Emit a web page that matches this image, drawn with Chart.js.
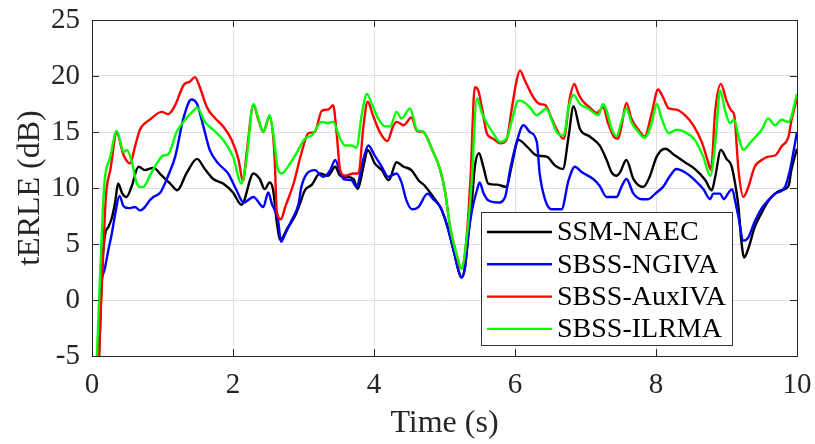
<!DOCTYPE html>
<html>
<head>
<meta charset="utf-8">
<script src="https://cdn.jsdelivr.net/npm/chart.js@4.4.1/dist/chart.umd.min.js"></script>
<style>
  html, body { margin: 0; padding: 0; background: #ffffff; }
  #wrap { width: 815px; height: 444px; }
</style>
</head>
<body>
<div id="wrap"><canvas id="terle" width="815" height="444"></canvas></div>
<script>
// time (s), tERLE (dB) pairs per method
var ssmNaec = [[0.10,-5],[0.15,3.5],[0.19,6.0],[0.23,6.5],[0.28,7.3],[0.33,8.8],[0.37,10.4],[0.43,9.5],[0.49,9.2],[0.56,10.1],
  [0.66,11.9],[0.75,11.6],[0.87,11.8],[0.99,11.1],[1.11,10.4],[1.21,9.8],[1.34,11.3],[1.49,12.6],[1.60,11.7],[1.72,10.8],
  [1.86,10.4],[2.00,9.6],[2.12,8.5],[2.29,11.3],[2.38,10.8],[2.45,9.9],[2.52,10.5],[2.57,9.8],[2.62,7.0],[2.67,5.4],
  [2.78,6.5],[2.88,7.5],[2.95,8.6],[3.02,9.8],[3.12,10.3],[3.23,11.3],[3.35,11.1],[3.45,11.9],[3.52,11.1],[3.61,11.0],
  [3.71,10.8],[3.77,9.9],[3.85,11.9],[3.91,13.4],[4.01,12.2],[4.11,11.6],[4.21,10.7],[4.32,12.3],[4.42,11.9],[4.53,11.6],
  [4.63,10.7],[4.72,10.2],[4.84,9.2],[4.94,8.3],[5.03,6.8],[5.13,4.4],[5.20,2.6],[5.24,2.0],[5.29,2.9],[5.34,5.9],
  [5.39,8.9],[5.43,11.9],[5.49,13.1],[5.55,11.9],[5.62,10.4],[5.74,10.3],[5.88,10.1],[5.95,11.9],[6.05,14.3],[6.17,13.7],
  [6.31,12.9],[6.45,12.8],[6.57,12.0],[6.68,11.7],[6.76,14.6],[6.83,17.3],[6.92,15.3],[7.06,14.6],[7.20,13.8],[7.30,12.5],
  [7.37,11.4],[7.44,11.1],[7.49,11.4],[7.58,12.5],[7.68,10.8],[7.82,10.1],[7.91,11.0],[8.01,12.8],[8.13,13.5],[8.27,12.9],
  [8.41,12.3],[8.55,11.7],[8.70,10.7],[8.79,9.8],[8.84,11.0],[8.92,13.4],[9.00,12.6],[9.07,12.0],[9.13,10.1],[9.17,8.3],
  [9.21,5.3],[9.25,3.8],[9.31,4.6],[9.40,6.5],[9.50,7.8],[9.59,8.8],[9.69,9.5],[9.78,9.8],[9.88,10.2],[9.92,11.6],[10.00,13.5]];

var sbssNgiva = [[0.09,-5],[0.114,0],[0.185,2.9],[0.23,4.4],[0.28,5.9],[0.33,7.7],[0.39,9.3],[0.445,8.4],[0.52,8.2],[0.61,8.3],
  [0.68,8.0],[0.75,8.3],[0.82,8.9],[0.87,9.2],[0.97,9.6],[1.08,11.1],[1.18,12.8],[1.30,16.3],[1.41,17.9],[1.49,17.5],
  [1.58,15.5],[1.67,13.4],[1.79,12.2],[1.93,11.3],[2.05,9.8],[2.15,8.7],[2.29,9.2],[2.43,8.3],[2.50,9.6],[2.55,8.6],
  [2.64,7.1],[2.68,5.2],[2.74,5.9],[2.83,7.1],[2.93,8.6],[2.97,10.1],[3.05,11.3],[3.16,11.6],[3.28,11.0],[3.38,11.6],
  [3.45,12.5],[3.52,11.4],[3.57,10.8],[3.68,10.7],[3.75,10.1],[3.85,12.6],[3.92,13.8],[4.01,12.9],[4.11,11.9],[4.20,11.0],
  [4.32,11.3],[4.39,10.5],[4.46,8.9],[4.54,8.1],[4.63,8.3],[4.76,9.5],[4.84,9.0],[4.94,8.3],[5.03,6.8],[5.13,4.4],
  [5.20,2.6],[5.24,2.0],[5.29,2.9],[5.34,5.9],[5.39,8.0],[5.46,9.8],[5.50,10.5],[5.55,9.6],[5.62,8.9],[5.76,8.7],
  [5.86,9.2],[5.93,11.6],[6.02,14.0],[6.12,15.6],[6.21,15.0],[6.31,14.1],[6.35,11.3],[6.43,8.9],[6.52,8.1],[6.66,8.1],
  [6.76,10.7],[6.85,11.9],[6.95,11.4],[7.11,10.8],[7.20,10.2],[7.30,9.2],[7.44,9.2],[7.51,10.1],[7.58,10.8],[7.68,9.5],
  [7.80,9.0],[7.89,9.0],[7.99,9.5],[8.10,10.1],[8.20,11.1],[8.29,11.7],[8.41,11.4],[8.55,10.7],[8.67,9.9],[8.77,9.0],
  [8.81,9.5],[8.91,9.5],[8.96,9.0],[9.03,9.6],[9.08,9.9],[9.12,8.9],[9.17,7.4],[9.24,5.3],[9.31,5.6],[9.40,7.0],
  [9.50,8.2],[9.59,8.9],[9.69,9.5],[9.83,10.1],[9.90,11.6],[10.00,15.0]];

var sbssAuxiva = [[0.10,-5],[0.13,0],[0.165,5.0],[0.19,8.5],[0.21,10.1],[0.26,11.6],[0.35,14.9],[0.45,12.9],[0.54,12.2],[0.61,13.7],
  [0.68,15.2],[0.82,16.1],[0.99,16.8],[1.08,16.6],[1.18,17.4],[1.30,19.2],[1.39,19.5],[1.46,19.9],[1.53,19.0],[1.63,17.2],
  [1.75,16.2],[1.86,15.5],[1.98,14.3],[2.08,12.5],[2.14,10.6],[2.20,13.5],[2.29,17.4],[2.36,16.1],[2.43,15.0],[2.52,16.4],
  [2.59,12.8],[2.62,8.0],[2.68,7.2],[2.74,8.3],[2.86,10.4],[2.97,13.1],[3.07,14.9],[3.16,15.0],[3.26,16.9],[3.35,17.0],
  [3.42,17.4],[3.47,14.9],[3.52,11.6],[3.59,11.1],[3.71,11.3],[3.78,11.3],[3.85,15.5],[3.91,17.7],[3.99,16.4],[4.09,14.9],
  [4.19,14.2],[4.27,15.5],[4.32,15.9],[4.42,15.6],[4.53,16.3],[4.61,15.1],[4.70,15.0],[4.82,13.5],[4.94,11.6],[5.01,9.6],
  [5.08,6.5],[5.17,4.1],[5.24,2.8],[5.31,5.3],[5.37,11.0],[5.43,19.0],[5.48,18.7],[5.53,17.2],[5.60,14.9],[5.69,14.4],
  [5.79,14.0],[5.88,14.3],[5.95,16.9],[6.02,19.5],[6.07,20.5],[6.14,19.6],[6.26,18.1],[6.35,17.5],[6.43,17.4],[6.52,16.2],
  [6.61,15.0],[6.69,14.4],[6.78,18.1],[6.84,19.3],[6.90,18.4],[6.97,17.7],[7.06,17.2],[7.16,16.7],[7.25,17.2],[7.32,15.8],
  [7.40,14.6],[7.46,14.4],[7.51,15.5],[7.58,17.6],[7.65,16.2],[7.75,15.2],[7.84,14.6],[7.94,16.7],[8.03,18.8],[8.10,18.1],
  [8.18,17.1],[8.29,17.0],[8.41,16.5],[8.53,15.6],[8.65,14.1],[8.74,12.3],[8.78,11.6],[8.84,16.9],[8.92,19.3],[9.00,17.8],
  [9.07,16.9],[9.11,16.5],[9.17,11.6],[9.24,9.2],[9.31,10.1],[9.40,11.9],[9.50,12.5],[9.59,12.8],[9.69,12.9],[9.78,13.7],
  [9.88,14.6],[9.92,16.0],[10.00,18.0]];

var sbssIlrma = [[0.07,-5],[0.12,3.0],[0.16,8.9],[0.185,11.0],[0.26,12.8],[0.33,14.9],[0.35,15.1],[0.45,13.2],[0.49,13.4],[0.56,12.5],
  [0.63,10.5],[0.68,10.1],[0.73,10.1],[0.82,11.1],[0.92,12.2],[1.01,12.9],[1.08,13.0],[1.20,15.0],[1.32,16.1],[1.44,16.9],
  [1.49,17.2],[1.60,15.9],[1.72,15.2],[1.86,14.3],[2.00,12.8],[2.12,10.4],[2.19,12.5],[2.29,17.5],[2.36,16.2],[2.43,15.0],
  [2.52,16.5],[2.57,14.9],[2.64,11.6],[2.69,11.3],[2.79,12.0],[2.90,13.1],[3.02,14.4],[3.12,14.7],[3.26,15.9],[3.33,15.8],
  [3.42,15.9],[3.52,14.4],[3.59,13.8],[3.68,13.8],[3.75,13.6],[3.83,16.7],[3.90,18.4],[3.97,17.5],[4.06,16.2],[4.16,15.5],
  [4.23,15.5],[4.32,16.8],[4.39,16.2],[4.51,17.1],[4.61,15.2],[4.70,15.0],[4.82,13.5],[4.94,11.6],[5.01,9.6],[5.08,6.5],
  [5.17,4.1],[5.24,2.8],[5.31,5.3],[5.38,10.0],[5.46,18.0],[5.53,16.7],[5.60,15.8],[5.69,14.9],[5.79,14.1],[5.88,14.4],
  [5.95,15.9],[6.05,17.8],[6.12,17.7],[6.21,17.2],[6.31,16.5],[6.38,16.8],[6.44,17.1],[6.52,16.1],[6.59,15.0],[6.69,14.7],
  [6.76,17.2],[6.83,18.3],[6.92,17.5],[7.04,17.1],[7.18,16.5],[7.25,17.5],[7.30,16.9],[7.37,15.3],[7.44,14.6],[7.51,15.9],
  [7.58,17.1],[7.65,15.9],[7.75,15.0],[7.84,14.5],[7.94,15.8],[8.01,17.5],[8.08,16.2],[8.18,14.9],[8.29,15.2],[8.41,15.0],
  [8.55,14.3],[8.67,12.8],[8.77,11.1],[8.84,14.0],[8.91,18.7],[8.98,16.9],[9.05,15.8],[9.11,16.1],[9.17,14.6],[9.24,13.4],
  [9.33,14.0],[9.43,14.7],[9.50,15.2],[9.59,16.2],[9.69,15.6],[9.78,16.1],[9.88,15.9],[10.00,18.4]];

var methodNames = ['SSM-NAEC', 'SBSS-NGIVA', 'SBSS-AuxIVA', 'SBSS-ILRMA'];
var xTicks = [0, 2, 4, 6, 8, 10];
var yTicks = [-5, 0, 5, 10, 15, 20, 25];

var lineColors = ['#000000', '#0000ff', '#ff0000', '#00ff00'];
var serif = "'Liberation Serif', 'Times New Roman', serif";
var inkColor = '#262626';

function toPoints(pairs){
    return pairs.map(function(p){ return {x: p[0], y: p[1]}; });
}

var allSeries = [ssmNaec, sbssNgiva, sbssAuxiva, sbssIlrma];
var datasets = allSeries.map(function(s, i){
    return {
        label: methodNames[i],
        data: toPoints(s),
        borderColor: lineColors[i],
        backgroundColor: lineColors[i],
        borderWidth: 2.4,
        pointRadius: 0,
        fill: false,
        cubicInterpolationMode: 'monotone',
        order: allSeries.length - i   // later methods drawn on top
    };
});

// box around the axes with small inward ticks on all four sides
var axesBox = {
    id: 'axesBox',
    afterDatasetsDraw: function(chart){
        var ctx = chart.ctx, a = chart.chartArea;
        var xs = chart.scales.x, ys = chart.scales.y;
        var tl = 7;
        ctx.save();
        ctx.strokeStyle = inkColor;
        ctx.lineWidth = 1;
        ctx.beginPath();
        xTicks.forEach(function(v){
            var px = Math.round(xs.getPixelForValue(v)) + 0.5;
            ctx.moveTo(px, a.bottom); ctx.lineTo(px, a.bottom - tl);
            ctx.moveTo(px, a.top); ctx.lineTo(px, a.top + tl);
        });
        yTicks.forEach(function(v){
            var py = Math.round(ys.getPixelForValue(v)) + 0.5;
            ctx.moveTo(a.left, py); ctx.lineTo(a.left + tl, py);
            ctx.moveTo(a.right, py); ctx.lineTo(a.right - tl, py);
        });
        ctx.stroke();
        ctx.strokeRect(Math.round(a.left) + 0.5, Math.round(a.top) + 0.5,
            Math.round(a.right - a.left), Math.round(a.bottom - a.top));
        ctx.restore();
    }
};

// legend box in the lower middle of the plot
var boxLegend = {
    id: 'boxLegend',
    afterDraw: function(chart){
        var ctx = chart.ctx, a = chart.chartArea;
        var w = 251, h = 133;
        var x0 = a.left + 389, y0 = a.bottom - 11 - h;
        var rowH = 32.3;
        ctx.save();
        ctx.fillStyle = '#ffffff';
        ctx.fillRect(x0, y0, w, h);
        ctx.strokeStyle = '#333333';
        ctx.lineWidth = 1;
        ctx.strokeRect(x0 + 0.5, y0 + 0.5, w, h);
        ctx.font = '28px ' + serif;
        ctx.textBaseline = 'middle';
        ctx.textAlign = 'left';
        chart.data.datasets.forEach(function(ds, i){
            var cy = y0 + 20 + i * rowH;
            ctx.strokeStyle = ds.borderColor;
            ctx.lineWidth = 2.4;
            ctx.beginPath();
            ctx.moveTo(x0 + 6, cy);
            ctx.lineTo(x0 + 71, cy);
            ctx.stroke();
            ctx.fillStyle = '#000000';
            ctx.fillText(ds.label, x0 + 76, cy + 1);
        });
        ctx.restore();
    }
};

var chart = new Chart(document.getElementById('terle'), {
    type: 'line',
    data: { datasets: datasets },
    options: {
        responsive: false,
        animation: false,
        devicePixelRatio: 1,
        layout: { padding: 0 },
        plugins: { legend: { display: false }, tooltip: { enabled: false } },
        scales: {
            x: {
                type: 'linear',
                min: xTicks[0],
                max: xTicks[xTicks.length - 1],
                afterBuildTicks: function(s){ s.ticks = xTicks.map(function(v){ return {value: v}; }); },
                afterFit: function(s){
                    s.height = 88;
                    s.paddingLeft = 0;
                    s.paddingRight = 18;
                },
                grid: { color: '#dfdfdf', drawTicks: false },
                border: { display: false },
                ticks: { padding: 12, color: inkColor, font: { family: serif, size: 29 } },
                title: { display: true, text: 'Time (s)', color: inkColor,
                         font: { family: serif, size: 32 }, padding: { top: 0, bottom: 1 } }
            },
            y: {
                min: yTicks[0],
                max: yTicks[yTicks.length - 1],
                afterBuildTicks: function(s){ s.ticks = yTicks.map(function(v){ return {value: v}; }); },
                afterFit: function(s){
                    s.width = 92;
                    s.paddingTop = 20;
                    s.paddingBottom = 0;
                },
                grid: { color: '#dfdfdf', drawTicks: false },
                border: { display: false },
                ticks: { padding: 12, color: inkColor, font: { family: serif, size: 29 } },
                title: { display: true, text: 'tERLE (dB)', color: inkColor,
                         font: { family: serif, size: 32 }, padding: { top: 11, bottom: 0 } }
            }
        }
    },
    plugins: [axesBox, boxLegend]
});
</script>
</body>
</html>
